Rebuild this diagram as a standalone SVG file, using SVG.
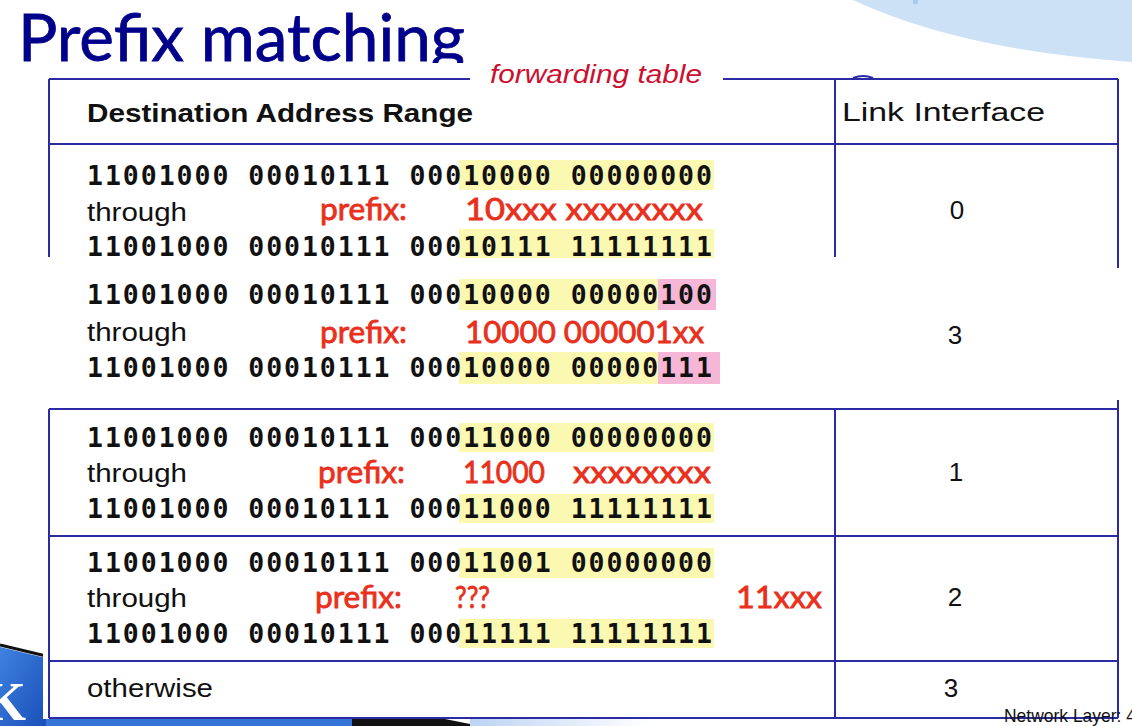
<svg xmlns="http://www.w3.org/2000/svg" width="1132" height="726" viewBox="0 0 1132 726">
  <defs>
    <linearGradient id="blueGrad" x1="0" y1="0" x2="1" y2="1">
      <stop offset="0" stop-color="#3f82e0"/>
      <stop offset="1" stop-color="#1a4fb8"/>
    </linearGradient>
    <linearGradient id="lightGrad" x1="0" y1="0" x2="1" y2="0">
      <stop offset="0" stop-color="#bcd3f3"/>
      <stop offset="1" stop-color="#ffffff"/>
    </linearGradient>
    <style>
      .grid { stroke: #2b2ba6; stroke-width: 2; fill: none; }
      .bin { font-family: "DejaVu Sans Mono", monospace; font-weight: bold; font-size: 26.5px; fill: #111; }
      .lbl { font-family: "Liberation Sans", Arial, sans-serif; font-size: 26px; fill: #111; }
      .red { font-family: Lato, "Noto Sans", sans-serif; font-size: 31px; fill: #e8301c; stroke: #e8301c; stroke-width: 0.8px; }
      .yel { fill: #fbf8b2; }
      .pink { fill: #f6b7d6; }
    </style>
  </defs>

  <!-- background decorations -->
  <rect width="1132" height="726" fill="#ffffff"/>
  <path d="M853 0 Q960 50 1132 62 V0 Z" fill="#cce0f6"/>
  <rect x="913" y="0" width="5" height="4" fill="#a9c9f1"/>
  <polygon points="0,647 46,658 46,726 0,726" fill="url(#blueGrad)"/>
  <line x1="0" y1="645" x2="46" y2="656" stroke="#111" stroke-width="3"/>
  <text x="-16" y="720" font-family="Liberation Serif, serif" font-weight="bold" font-size="54" fill="#ffffff">K</text>
  <rect x="46" y="719" width="314" height="7" fill="#3474d6"/>
  <polygon points="352,716 440,718 480,726 352,726" fill="#111"/>
  <rect x="470" y="719" width="180" height="7" fill="url(#lightGrad)"/>

  <!-- title -->
  <text x="18" y="61" font-family="Lato, 'Open Sans', sans-serif" font-size="66" fill="#00008b" stroke="#00008b" stroke-width="0.8" textLength="447" lengthAdjust="spacingAndGlyphs">Prefix matching</text>

  <!-- table white backdrop -->
  <rect x="43" y="63" width="1082" height="656" fill="#ffffff"/>

  <!-- highlights -->
  <g id="highlights">
    <rect class="yel" x="459" y="160" width="255" height="30"/>
    <rect class="yel" x="459" y="229" width="255" height="29"/>
    <rect class="yel" x="459" y="279" width="199" height="31"/>
    <rect class="pink" x="658" y="279" width="58" height="31"/>
    <rect class="yel" x="459" y="352" width="199" height="32"/>
    <rect class="pink" x="658" y="352" width="62" height="32"/>
    <rect class="yel" x="459" y="423" width="255" height="29"/>
    <rect class="yel" x="459" y="494" width="255" height="29"/>
    <rect class="yel" x="459" y="548" width="255" height="30"/>
    <rect class="yel" x="459" y="619" width="255" height="29"/>
  </g>

  <!-- table grid -->
  <g id="connectors">
    <path class="grid" d="M49 79 H470 M723 79 H1118"/>
    <path class="grid" d="M853 78 Q863 74 873 78" stroke-width="1.5"/>
    <path class="grid" d="M49 144 H1118"/>
    <path class="grid" d="M49 79 V257 M49 409 V718"/>
    <path class="grid" d="M835 79 V257 M835 408 V718"/>
    <path class="grid" d="M1118 79 V268 M1118 400 V718"/>
    <path class="grid" d="M49 409 H1118 M49 536 H1118 M49 661 H1118 M49 718 H1118"/>
  </g>

  <text x="490" y="83" font-family="Liberation Sans, Arial, sans-serif" font-style="italic" font-size="26" fill="#cc1030" textLength="212" lengthAdjust="spacingAndGlyphs">forwarding table</text>

  <!-- header -->
  <g id="header">
    <text class="lbl" x="87" y="122" font-weight="bold" font-size="25" textLength="386" lengthAdjust="spacingAndGlyphs">Destination Address Range</text>
    <text class="lbl" x="842" y="121" textLength="203" lengthAdjust="spacingAndGlyphs">Link Interface</text>
  </g>

  <!-- row 1 -->
  <g id="row1">
    <text class="bin" x="87" y="185" textLength="625" lengthAdjust="spacing">11001000 00010111 00010000 00000000</text>
    <text class="lbl" x="87" y="221" textLength="100" lengthAdjust="spacingAndGlyphs">through</text>
    <text class="bin" x="87" y="256" textLength="625" lengthAdjust="spacing">11001000 00010111 00010111 11111111</text>
    <text class="red" x="320" y="220" textLength="87" lengthAdjust="spacingAndGlyphs">prefix:</text>
    <text class="red" x="465" y="220" textLength="238" lengthAdjust="spacingAndGlyphs">10xxx xxxxxxxx</text>
    <text class="lbl" x="957" y="219" text-anchor="middle">0</text>
  </g>

  <!-- row 2 -->
  <g id="row2">
    <text class="bin" x="87" y="304" textLength="625" lengthAdjust="spacing">11001000 00010111 00010000 00000100</text>
    <text class="lbl" x="87" y="341" textLength="100" lengthAdjust="spacingAndGlyphs">through</text>
    <text class="bin" x="87" y="377" textLength="625" lengthAdjust="spacing">11001000 00010111 00010000 00000111</text>
    <text class="red" x="320" y="343" textLength="87" lengthAdjust="spacingAndGlyphs">prefix:</text>
    <text class="red" x="465" y="343" textLength="239" lengthAdjust="spacingAndGlyphs">10000 000001xx</text>
    <text class="lbl" x="955" y="344" text-anchor="middle">3</text>
  </g>

  <!-- row 3 -->
  <g id="row3">
    <text class="bin" x="87" y="447" textLength="625" lengthAdjust="spacing">11001000 00010111 00011000 00000000</text>
    <text class="lbl" x="87" y="482" textLength="100" lengthAdjust="spacingAndGlyphs">through</text>
    <text class="bin" x="87" y="518" textLength="625" lengthAdjust="spacing">11001000 00010111 00011000 11111111</text>
    <text class="red" x="318" y="483" textLength="87" lengthAdjust="spacingAndGlyphs">prefix:</text>
    <text class="red" x="463" y="483" textLength="82" lengthAdjust="spacingAndGlyphs">11000</text>
    <text class="red" x="573" y="483" textLength="138" lengthAdjust="spacingAndGlyphs">xxxxxxxx</text>
    <text class="lbl" x="956" y="481" text-anchor="middle">1</text>
  </g>

  <!-- row 4 -->
  <g id="row4">
    <text class="bin" x="87" y="572" textLength="625" lengthAdjust="spacing">11001000 00010111 00011001 00000000</text>
    <text class="lbl" x="87" y="607" textLength="100" lengthAdjust="spacingAndGlyphs">through</text>
    <text class="bin" x="87" y="643" textLength="625" lengthAdjust="spacing">11001000 00010111 00011111 11111111</text>
    <text class="red" x="315" y="608" textLength="87" lengthAdjust="spacingAndGlyphs">prefix:</text>
    <text class="red" x="455" y="608" textLength="35" lengthAdjust="spacingAndGlyphs">???</text>
    <text class="red" x="736" y="608" textLength="86" lengthAdjust="spacingAndGlyphs">11xxx</text>
    <text class="lbl" x="955" y="606" text-anchor="middle">2</text>
  </g>

  <!-- row 5 -->
  <g id="row5">
    <text class="lbl" x="87" y="697" textLength="126" lengthAdjust="spacingAndGlyphs">otherwise</text>
    <text class="lbl" x="951" y="697" text-anchor="middle">3</text>
  </g>

  <text x="1004" y="722" font-family="Liberation Sans, Arial, sans-serif" font-size="19" fill="#111" textLength="132" lengthAdjust="spacingAndGlyphs">Network Layer: 4</text>
</svg>
